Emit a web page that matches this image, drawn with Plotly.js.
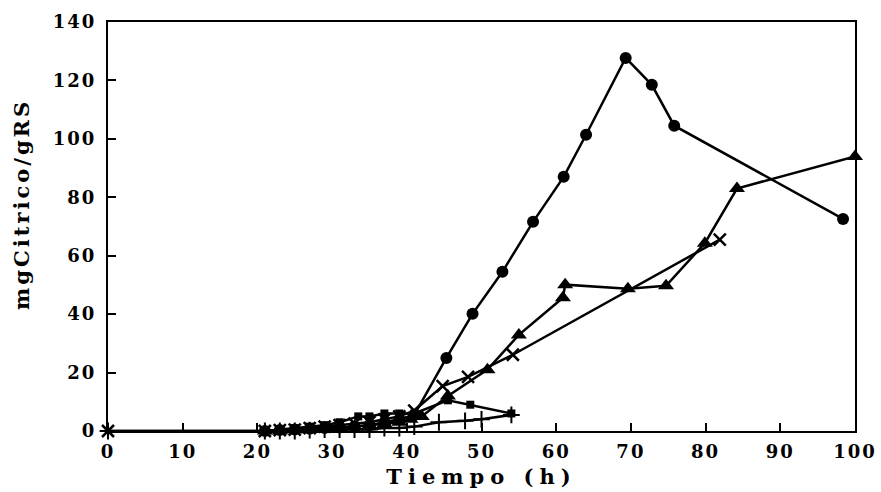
<!DOCTYPE html>
<html>
<head>
<meta charset="utf-8">
<script src="https://cdn.plot.ly/plotly-3.0.1.min.js"></script>
<style>
  html, body { margin: 0; padding: 0; background: #fff; }
  #chart { width: 881px; height: 492px; }
  .xtick text, .ytick text { letter-spacing: 2px; }
  .g-xtitle text { letter-spacing: 6px; }
  .annotation-text { letter-spacing: 3px; }
</style>
</head>
<body>
<div id="chart"></div>
<script>
// Citric acid yield (mg citric / g reducing sugar) vs fermentation time (h)

// Series 1: filled circles
const tCircle = [21, 23, 25, 27, 29, 31, 33, 35, 37, 39, 41, 45.3, 48.8, 52.8, 56.9, 61.0, 64.0, 69.3, 72.8, 75.8, 98.4];
const yCircle = [0, 0.3, 0.5, 0.8, 1, 1.2, 1.5, 2, 3, 4, 5.5, 25.0, 40.1, 54.5, 71.6, 87.0, 101.4, 127.7, 118.5, 104.5, 72.6];

// Series 2: filled triangles
const tTriangle = [21, 23, 25, 27, 29, 31, 33, 35, 37, 39, 40.5, 42, 45.5, 50.8, 55.0, 60.9, 61.2, 69.6, 74.7, 79.9, 84.2, 100];
const yTriangle = [0, 0, 0.3, 0.5, 0.8, 1, 1.5, 2, 2.5, 3, 4, 5, 12, 21, 32.9, 45.6, 50.1, 48.7, 49.7, 64.3, 83.0, 94.0];

// Series 3: crosses
const tCross = [0, 21, 23, 25, 27, 29, 31, 33, 35, 37, 39, 41, 44.8, 48.2, 54.2, 81.9];
const yCross = [0, 0, 0.3, 0.5, 1, 1.5, 2, 2.5, 3, 4, 5, 7, 15.4, 18.5, 26.1, 65.5];

// Series 4: filled squares
const tSquare = [21, 23, 25, 27, 29, 31, 33.5, 35, 37, 39, 41, 45.5, 48.5, 54];
const ySquare = [0, 0.5, 1, 1.5, 2, 3, 5, 5, 6, 6, 6, 10.5, 9, 6];

// Series 5: plus marks
const tPlus = [0, 21, 23, 25, 27, 29, 31, 33, 35, 37, 39, 41, 44.3, 47.8, 50.0, 54];
const yPlus = [0, 0, 0, 0, 0.3, 0.5, 0.5, 0.5, 0.5, 1, 1, 1.5, 3, 3.5, 4, 5.5];

// Axis ticks
const xTicks = [0, 10, 20, 30, 40, 50, 60, 70, 80, 90, 100];
const yTicks = [0, 20, 40, 60, 80, 100, 120, 140];

const line = { color: '#000', width: 2.5 };
const base = { type: 'scatter', mode: 'lines+markers', cliponaxis: false, line: line, showlegend: false };

const traces = [
  Object.assign({}, base, { x: tPlus, y: yPlus,
    marker: { symbol: 'cross-thin-open', size: 12, color: '#000', line: { color: '#000', width: 2 } } }),
  Object.assign({}, base, { x: tSquare, y: ySquare,
    marker: { symbol: 'square', size: 8, color: '#000' } }),
  Object.assign({}, base, { x: tCross, y: yCross,
    marker: { symbol: 'x-thin-open', size: 12, color: '#000', line: { color: '#000', width: 2.5 } } }),
  Object.assign({}, base, { x: tTriangle, y: yTriangle,
    marker: { symbol: 'triangle-up', size: 14, color: '#000' } }),
  Object.assign({}, base, { x: tCircle, y: yCircle,
    marker: { symbol: 'circle', size: 12, color: '#000' } })
];

const tickFont = { family: 'DejaVu Serif, serif', size: 18, color: '#000', weight: 900 };
const titleFont = { family: 'DejaVu Serif, serif', size: 21, color: '#000', weight: 900 };

const layout = {
  width: 881, height: 492,
  margin: { l: 108, r: 26, t: 22, b: 61 },
  paper_bgcolor: '#fff', plot_bgcolor: '#fff',
  showlegend: false,
  xaxis: {
    range: [0, 100], tickvals: xTicks, ticktext: xTicks.map(String),
    ticks: 'inside', ticklen: 8, tickwidth: 2, tickcolor: '#000',
    showline: true, linewidth: 2, linecolor: '#000', mirror: true,
    showgrid: false, zeroline: false,
    tickfont: tickFont, ticklabelstandoff: 3,
    title: { text: 'Tiempo (h)', font: titleFont, standoff: 9 }
  },
  yaxis: {
    range: [0, 140], tickvals: yTicks, ticktext: yTicks.map(String),
    ticks: 'inside', ticklen: 8, tickwidth: 2, tickcolor: '#000',
    showline: true, linewidth: 2, linecolor: '#000', mirror: true,
    showgrid: false, zeroline: false,
    tickfont: tickFont, ticklabelstandoff: 6
  },
  // vertical axis label, set slightly above the plot's middle
  annotations: [{
    text: 'mgCitrico/gRS', textangle: -90, showarrow: false,
    xref: 'paper', yref: 'paper', x: -0.115, y: 0.553,
    xanchor: 'center', yanchor: 'middle', font: titleFont
  }]
};

Plotly.newPlot('chart', traces, layout, { displayModeBar: false, staticPlot: true });
</script>
</body>
</html>
